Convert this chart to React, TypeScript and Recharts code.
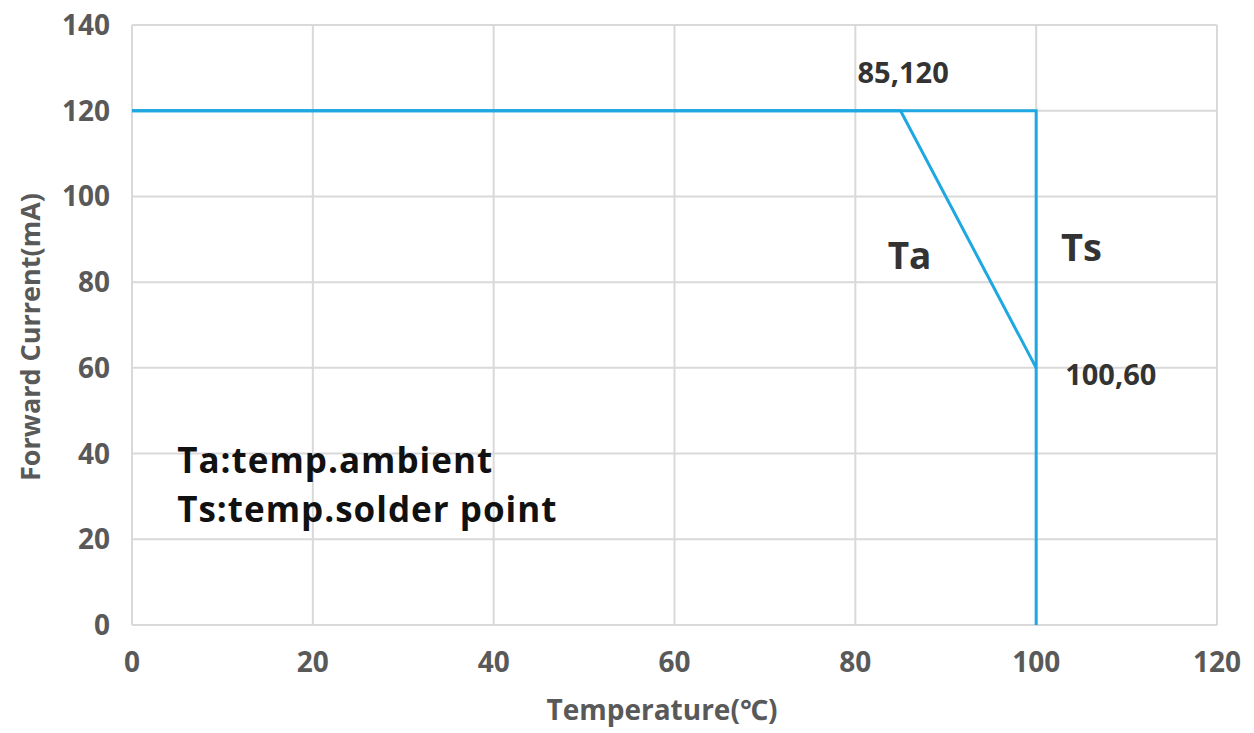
import React from 'react';
import { LineChart, Line, XAxis, YAxis, CartesianGrid, ReferenceDot, Label } from 'recharts';

// derating curve data
const taCurve = [
  { temp: 0, current: 120 },
  { temp: 85, current: 120 },
  { temp: 100, current: 60 },
];
const tsCurve = [
  { temp: 0, current: 120 },
  { temp: 100, current: 120 },
  { temp: 100, current: 0 },
];
const xTicks = [0, 20, 40, 60, 80, 100, 120];
const yTicks = [0, 20, 40, 60, 80, 100, 120, 140];

const FONT = '"Open Sans", "Noto Sans", sans-serif';
const BLUE = '#1ea7e1';
const GRID = '#d9d9d9';
const TICK = '#595959';

const tickStyle = { fontSize: 28, fontWeight: 700, fill: TICK, fontFamily: FONT };

// text placed by its baseline, relative to a reference point
const Note = ({ viewBox, text, size, color, dx = 0, dy = 0, anchor = 'start', spacing = 0 }: any) => (
  <text
    x={viewBox.x + dx}
    y={viewBox.y + dy}
    textAnchor={anchor}
    fontFamily={FONT}
    fontWeight={700}
    fontSize={size}
    letterSpacing={spacing}
    fill={color}
  >
    {text}
  </text>
);

export default function App() {
  return (
    <div style={{ position: 'absolute', left: 0, top: 0, background: '#fff' }}>
      <LineChart width={1254} height={733} margin={{ top: 25, right: 37, bottom: 0, left: 0 }}>
        <CartesianGrid stroke={GRID} strokeWidth={2} />
        <XAxis
          type="number"
          dataKey="temp"
          domain={[0, 120]}
          ticks={xTicks}
          axisLine={false}
          tickLine={false}
          tickMargin={21}
          height={108}
          tick={tickStyle}
          allowDuplicatedCategory={false}
        >
          <Label
            content={({ viewBox }: any) => (
              <Note viewBox={{ x: 662, y: viewBox.y + 95 }} text="Temperature(℃)" size={28} color={TICK} anchor="middle" />
            )}
          />
        </XAxis>
        <YAxis
          type="number"
          dataKey="current"
          domain={[0, 140]}
          ticks={yTicks}
          axisLine={false}
          tickLine={false}
          tickMargin={16}
          width={132}
          tick={tickStyle}
        >
          <Label
            content={() => (
              <text
                x={40}
                y={337}
                transform="rotate(-90, 40, 337)"
                textAnchor="middle"
                fontFamily={FONT}
                fontWeight={700}
                fontSize={27}
                fill={TICK}
              >
                Forward Current(mA)
              </text>
            )}
          />
        </YAxis>
        <Line data={tsCurve} dataKey="current" type="linear" stroke={BLUE} strokeWidth={3} dot={false} isAnimationActive={false} />
        <Line data={taCurve} dataKey="current" type="linear" stroke={BLUE} strokeWidth={3} dot={false} isAnimationActive={false} />
        <ReferenceDot x={85} y={120} r={0} stroke="none" label={(p: any) => <Note {...p} text="85,120" size={29} color="#333" dx={-43} dy={-28} />} />
        <ReferenceDot x={100} y={60} r={0} stroke="none" label={(p: any) => <Note {...p} text="100,60" size={29} color="#333" dx={29} dy={17} />} />
        <ReferenceDot x={86} y={83} r={0} stroke="none" label={(p: any) => <Note {...p} text="Ta" size={37} color="#333" anchor="middle" />} />
        <ReferenceDot x={105} y={85} r={0} stroke="none" label={(p: any) => <Note {...p} text="Ts" size={38} color="#333" anchor="middle" />} />
        <ReferenceDot x={5} y={35.5} r={0} stroke="none" label={(p: any) => <Note {...p} text="Ta:temp.ambient" size={35} spacing={1} color="#111" />} />
        <ReferenceDot x={5} y={24} r={0} stroke="none" label={(p: any) => <Note {...p} text="Ts:temp.solder point" size={35} spacing={1} color="#111" />} />
      </LineChart>
    </div>
  );
}
